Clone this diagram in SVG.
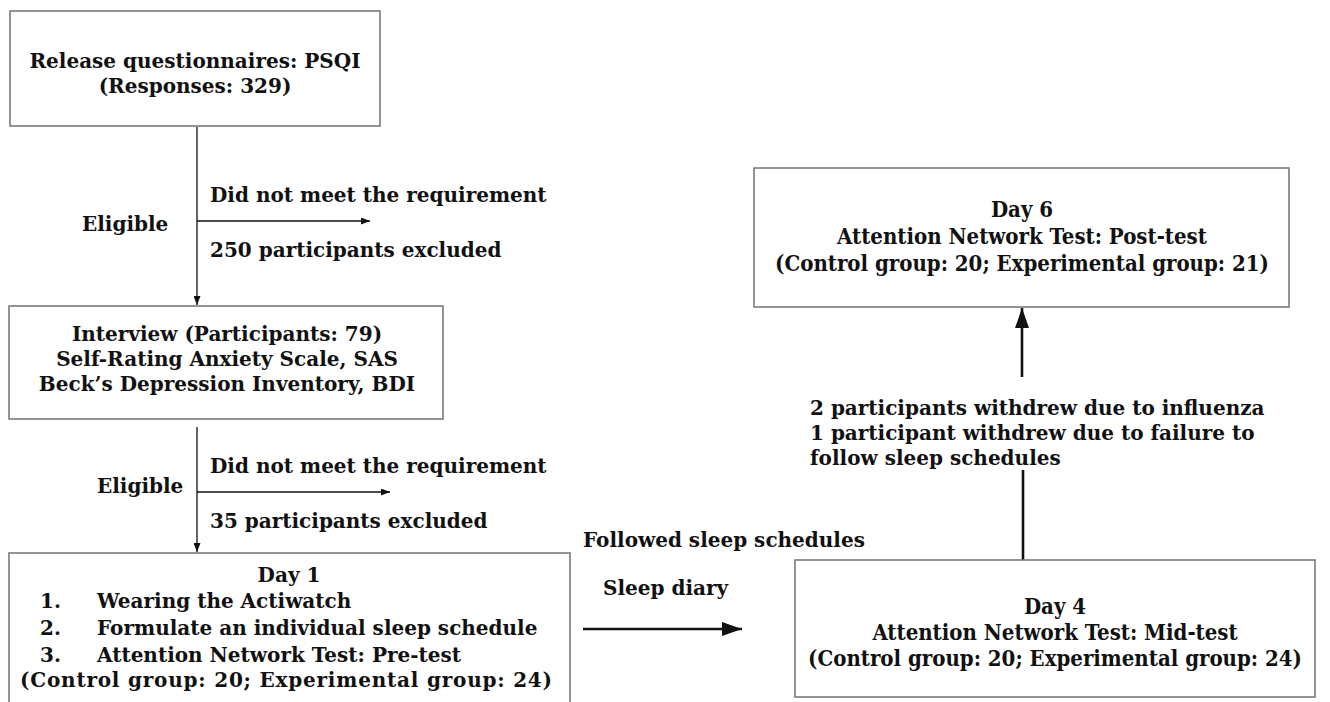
<svg xmlns="http://www.w3.org/2000/svg" width="1330" height="702" viewBox="0 0 1330 702">
<defs>
<style>
text{font-family:"DejaVu Serif","Liberation Serif",serif;font-weight:bold;font-size:20px;fill:#111}
.c{text-anchor:middle}
.n{font-stretch:condensed;font-size:22px}
.box{fill:#fff;stroke:#7a7a7a;stroke-width:1.6}
.thin{stroke:#111;stroke-width:1.3;fill:none}
.thick{stroke:#111;stroke-width:2.6;fill:none}
</style>
<marker id="ah" viewBox="0 0 9 7" refX="9" refY="3.5" markerWidth="9" markerHeight="7" markerUnits="userSpaceOnUse" orient="auto"><path d="M0,0 L9,3.5 L0,7 z" fill="#111"/></marker>
<marker id="ahb" viewBox="0 0 20 14" refX="20" refY="7" markerWidth="20" markerHeight="14" markerUnits="userSpaceOnUse" orient="auto"><path d="M0,0 L20,7 L0,14 z" fill="#111"/></marker>
</defs>
<rect width="1330" height="702" fill="#fff"/>
<g id="connectors">
<line class="thin" x1="197" y1="127" x2="197" y2="305" marker-end="url(#ah)"/>
<line class="thin" x1="197" y1="221" x2="370" y2="221" marker-end="url(#ah)"/>
<line class="thin" x1="197" y1="427" x2="197" y2="552" marker-end="url(#ah)"/>
<line class="thin" x1="197" y1="492" x2="390" y2="492" marker-end="url(#ah)"/>
<line class="thick" x1="583" y1="629" x2="742" y2="629" marker-end="url(#ahb)"/>
<line class="thick" x1="1023" y1="560" x2="1023" y2="470"/>
<line class="thick" x1="1022" y1="377" x2="1022" y2="308" marker-end="url(#ahb)"/>
</g>
<g id="labels">
<text x="82" y="231">Eligible</text>
<text x="210" y="202">Did not meet the requirement</text>
<text x="210" y="257">250 participants excluded</text>
<text x="97" y="493">Eligible</text>
<text x="210" y="473">Did not meet the requirement</text>
<text x="210" y="528">35 participants excluded</text>
<text x="583" y="547">Followed sleep schedules</text>
<text x="603" y="595">Sleep diary</text>
<text x="810" y="415">2 participants withdrew due to influenza</text>
<text x="810" y="440">1 participant withdrew due to failure to</text>
<text x="810" y="465">follow sleep schedules</text>
</g>
<g id="node-release">
<rect class="box" x="10" y="11" width="370" height="115"/>
<text class="c" x="195" y="68">Release questionnaires: PSQI</text>
<text class="c" x="195" y="93">(Responses: 329)</text>
</g>
<g id="node-interview">
<rect class="box" x="9" y="306" width="434" height="113"/>
<text class="c" x="227" y="341">Interview (Participants: 79)</text>
<text class="c" x="227" y="366">Self-Rating Anxiety Scale, SAS</text>
<text class="c" x="227" y="391">Beck’s Depression Inventory, BDI</text>
</g>
<g id="node-day1">
<rect class="box" x="9" y="553" width="561" height="160"/>
<text class="c" x="289" y="582">Day 1</text>
<text x="40" y="608">1.</text><text x="97" y="608">Wearing the Actiwatch</text>
<text x="40" y="635">2.</text><text x="97" y="635">Formulate an individual sleep schedule</text>
<text x="40" y="662">3.</text><text x="97" y="662">Attention Network Test: Pre-test</text>
<text x="20" y="687" textLength="532">(Control group: 20; Experimental group: 24)</text>
</g>
<g id="node-day4">
<rect class="box" x="795" y="560" width="520" height="137"/>
<text class="c n" x="1055" y="614">Day 4</text>
<text class="c n" x="1055" y="640">Attention Network Test: Mid-test</text>
<text class="c n" x="1055" y="666">(Control group: 20; Experimental group: 24)</text>
</g>
<g id="node-day6">
<rect class="box" x="754" y="168" width="535" height="139"/>
<text class="c n" x="1022" y="217">Day 6</text>
<text class="c n" x="1022" y="244">Attention Network Test: Post-test</text>
<text class="c n" x="1022" y="271">(Control group: 20; Experimental group: 21)</text>
</g>
</svg>
